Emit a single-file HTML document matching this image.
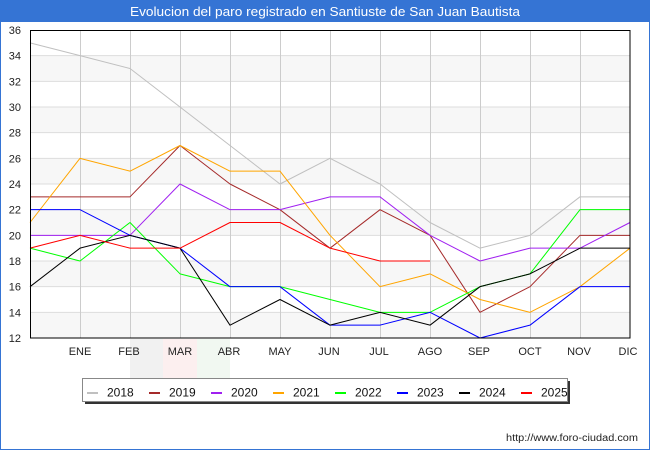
<!DOCTYPE html>
<html><head><meta charset="utf-8"><style>
html,body{margin:0;padding:0;background:#fff;}
svg{display:block;}
</style></head><body>
<svg width="650" height="450" viewBox="0 0 650 450" xmlns="http://www.w3.org/2000/svg" font-family="'Liberation Sans', 'DejaVu Sans', sans-serif">
<rect x="0" y="0" width="650" height="450" fill="#fff"/>
<rect x="0.5" y="0.5" width="649" height="449" fill="none" stroke="#3574d4" stroke-width="1"/>
<rect x="0" y="0" width="650" height="22" fill="#3574d4"/>
<text x="325" y="16" fill="#fff" font-size="13" text-anchor="middle" textLength="390" lengthAdjust="spacingAndGlyphs">Evolucion del paro registrado en Santiuste de San Juan Bautista</text>

<!-- watermark -->
<rect x="130" y="339" width="33" height="39" fill="#f1f1f1"/>
<rect x="163" y="339" width="34" height="39" fill="#fcefef"/>
<rect x="197" y="339" width="33" height="39" fill="#f1f8f1"/>

<!-- bands -->
<g fill="#f7f7f7">
<rect x="30" y="55.67" width="600" height="25.67"/>
<rect x="30" y="107" width="600" height="25.67"/>
<rect x="30" y="158.33" width="600" height="25.67"/>
<rect x="30" y="209.67" width="600" height="25.67"/>
<rect x="30" y="261" width="600" height="25.67"/>
<rect x="30" y="312.33" width="600" height="25.67"/>
</g>
<!-- horizontal grid -->
<g stroke="#dddddd" stroke-width="1">
<line x1="30" y1="55.67" x2="630" y2="55.67"/>
<line x1="30" y1="81.33" x2="630" y2="81.33"/>
<line x1="30" y1="107" x2="630" y2="107"/>
<line x1="30" y1="132.67" x2="630" y2="132.67"/>
<line x1="30" y1="158.33" x2="630" y2="158.33"/>
<line x1="30" y1="184" x2="630" y2="184"/>
<line x1="30" y1="209.67" x2="630" y2="209.67"/>
<line x1="30" y1="235.33" x2="630" y2="235.33"/>
<line x1="30" y1="261" x2="630" y2="261"/>
<line x1="30" y1="286.67" x2="630" y2="286.67"/>
<line x1="30" y1="312.33" x2="630" y2="312.33"/>
</g>
<!-- vertical grid -->
<g stroke="#cccccc" stroke-width="1">
<line x1="80.5" y1="30" x2="80.5" y2="338"/>
<line x1="130.5" y1="30" x2="130.5" y2="338"/>
<line x1="180.5" y1="30" x2="180.5" y2="338"/>
<line x1="230.5" y1="30" x2="230.5" y2="338"/>
<line x1="280.5" y1="30" x2="280.5" y2="338"/>
<line x1="330.5" y1="30" x2="330.5" y2="338"/>
<line x1="380.5" y1="30" x2="380.5" y2="338"/>
<line x1="430.5" y1="30" x2="430.5" y2="338"/>
<line x1="480.5" y1="30" x2="480.5" y2="338"/>
<line x1="530.5" y1="30" x2="530.5" y2="338"/>
<line x1="580.5" y1="30" x2="580.5" y2="338"/>
</g>

<!-- series -->
<g fill="none" stroke-width="1" stroke-linejoin="round">
<polyline stroke="#c0c0c0" points="30,42.83 80,55.67 130,68.5 180,107 230,145.5 280,184 330,158.33 380,184 430,222.5 480,248.17 530,235.33 580,196.83 630,196.83"/>
<polyline stroke="#a52a2a" points="30,196.83 80,196.83 130,196.83 180,145.5 230,184 280,209.67 330,248.17 380,209.67 430,235.33 480,312.33 530,286.67 580,235.33 630,235.33"/>
<polyline stroke="#a020f0" points="30,235.33 80,235.33 130,235.33 180,184 230,209.67 280,209.67 330,196.83 380,196.83 430,235.33 480,261 530,248.17 580,248.17 630,222.5"/>
<polyline stroke="#ffa500" points="30,222.5 80,158.33 130,171.17 180,145.5 230,171.17 280,171.17 330,235.33 380,286.67 430,273.83 480,299.5 530,312.33 580,286.67 630,248.17"/>
<polyline stroke="#00ff00" points="30,248.17 80,261 130,222.5 180,273.83 230,286.67 280,286.67 330,299.5 380,312.33 430,312.33 480,286.67 530,273.83 580,209.67 630,209.67"/>
<polyline stroke="#0000ff" points="30,209.67 80,209.67 130,235.33 180,248.17 230,286.67 280,286.67 330,325.17 380,325.17 430,312.33 480,338 530,325.17 580,286.67 630,286.67"/>
<polyline stroke="#000000" points="30,286.67 80,248.17 130,235.33 180,248.17 230,325.17 280,299.5 330,325.17 380,312.33 430,325.17 480,286.67 530,273.83 580,248.17 630,248.17"/>
<polyline stroke="#ff0000" points="30,248.17 80,235.33 130,248.17 180,248.17 230,222.5 280,222.5 330,248.17 380,261 430,261"/>
</g>

<!-- plot border -->
<rect x="30.5" y="30.5" width="599.5" height="307.5" fill="none" stroke="#000" stroke-width="1"/>

<!-- y labels -->
<g font-size="11" fill="#222" text-anchor="end">
<text x="21" y="34">36</text>
<text x="21" y="59.7">34</text>
<text x="21" y="85.3">32</text>
<text x="21" y="111">30</text>
<text x="21" y="136.7">28</text>
<text x="21" y="162.3">26</text>
<text x="21" y="188">24</text>
<text x="21" y="213.7">22</text>
<text x="21" y="239.3">20</text>
<text x="21" y="265">18</text>
<text x="21" y="290.7">16</text>
<text x="21" y="316.3">14</text>
<text x="21" y="342">12</text>
</g>
<!-- x labels -->
<g font-size="11" fill="#222" text-anchor="middle">
<text x="80" y="355">ENE</text>
<text x="129" y="355">FEB</text>
<text x="180" y="355">MAR</text>
<text x="229" y="355">ABR</text>
<text x="280" y="355">MAY</text>
<text x="329" y="355">JUN</text>
<text x="379" y="355">JUL</text>
<text x="430" y="355">AGO</text>
<text x="479" y="355">SEP</text>
<text x="530" y="355">OCT</text>
<text x="579" y="355">NOV</text>
<text x="628" y="355">DIC</text>
</g>

<!-- legend -->
<rect x="85" y="381" width="485" height="23" fill="#333"/>
<rect x="82.5" y="378.5" width="485" height="23" fill="#fff" stroke="#888" stroke-width="1"/>
<g stroke-width="2">
<line x1="87" y1="393" x2="98" y2="393" stroke="#c0c0c0"/>
<line x1="149" y1="393" x2="160" y2="393" stroke="#a52a2a"/>
<line x1="211" y1="393" x2="222" y2="393" stroke="#a020f0"/>
<line x1="273" y1="393" x2="284" y2="393" stroke="#ffa500"/>
<line x1="335" y1="393" x2="346" y2="393" stroke="#00ff00"/>
<line x1="397" y1="393" x2="408" y2="393" stroke="#0000ff"/>
<line x1="459" y1="393" x2="470" y2="393" stroke="#000000"/>
<line x1="521" y1="393" x2="532" y2="393" stroke="#ff0000"/>
</g>
<g font-size="12" fill="#111">
<text x="107" y="396.5">2018</text>
<text x="169" y="396.5">2019</text>
<text x="231" y="396.5">2020</text>
<text x="293" y="396.5">2021</text>
<text x="355" y="396.5">2022</text>
<text x="417" y="396.5">2023</text>
<text x="479" y="396.5">2024</text>
<text x="541" y="396.5">2025</text>
</g>

<text x="506" y="441" font-size="10" fill="#222" textLength="132" lengthAdjust="spacingAndGlyphs">http://www.foro-ciudad.com</text>
</svg>
</body></html>
